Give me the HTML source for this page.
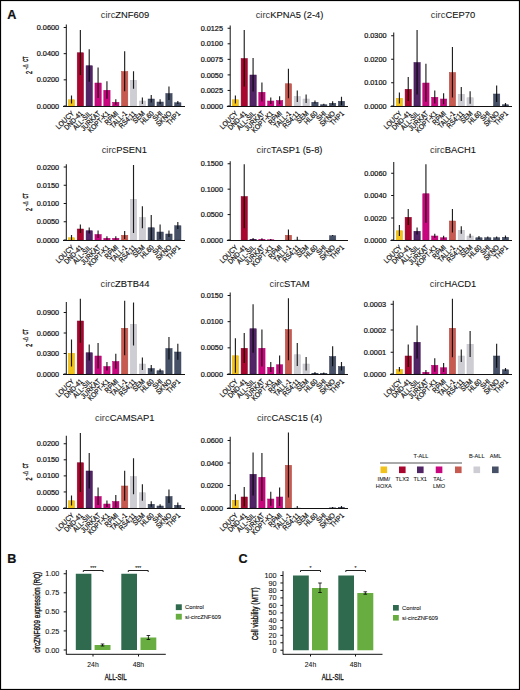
<!DOCTYPE html>
<html><head><meta charset="utf-8"><title>Figure</title>
<style>
html,body{margin:0;padding:0;background:#fff;}
body{width:520px;height:690px;overflow:hidden;}
svg{display:block;font-family:"Liberation Sans", sans-serif;}
svg text{fill:#111;stroke:#111;stroke-width:0.22px;}
.leg text{stroke-width:0.08px;}
text.ttl{stroke-width:0.1px;}
tspan.ci{stroke-width:0;fill:#3a3a3a;}
text.yl{stroke-width:0.4px;}
.leg text.bd{stroke-width:0.35px;}
.ax{stroke:#111;stroke-width:1;fill:none;}
.eb{stroke:#000;stroke-opacity:0.88;stroke-width:1.15;}
</style></head>
<body>
<svg width="520" height="690" viewBox="0 0 520 690">
<rect x="0.5" y="0.5" width="519" height="689" fill="#fff" stroke="#000" stroke-width="1.2"/>
<text x="7.2" y="19" font-size="12.6" font-weight="bold">A</text>
<rect x="68.35" y="99.75" width="6.30" height="6.25" fill="#f1c11c" stroke="#e8b000" stroke-width="0.5"/>
<text transform="translate(74.50,114.00) rotate(-45) scale(0.88,1)" text-anchor="end" font-size="7.35">LOUCY</text>
<rect x="77.21" y="52.75" width="6.30" height="53.25" fill="#a8062f" stroke="#90002a" stroke-width="0.5"/>
<text transform="translate(83.36,114.00) rotate(-45) scale(0.88,1)" text-anchor="end" font-size="7.35">DND-41</text>
<rect x="86.07" y="65.75" width="6.30" height="40.25" fill="#512465" stroke="#3d1250" stroke-width="0.5"/>
<text transform="translate(92.22,114.00) rotate(-45) scale(0.88,1)" text-anchor="end" font-size="7.35">ALL-SIL</text>
<rect x="94.93" y="83.00" width="6.30" height="23.00" fill="#c8077f" stroke="#b0006c" stroke-width="0.5"/>
<text transform="translate(101.08,114.00) rotate(-45) scale(0.88,1)" text-anchor="end" font-size="7.35">JURKAT</text>
<rect x="103.79" y="90.25" width="6.30" height="15.75" fill="#c8077f" stroke="#b0006c" stroke-width="0.5"/>
<text transform="translate(109.94,114.00) rotate(-45) scale(0.88,1)" text-anchor="end" font-size="7.35">KOPT-K1</text>
<rect x="112.65" y="102.25" width="6.30" height="3.75" fill="#c8077f" stroke="#b0006c" stroke-width="0.5"/>
<text transform="translate(118.80,114.00) rotate(-45) scale(0.88,1)" text-anchor="end" font-size="7.35">RPMI</text>
<rect x="121.51" y="71.50" width="6.30" height="34.50" fill="#c65a51" stroke="#b4463e" stroke-width="0.5"/>
<text transform="translate(127.66,114.00) rotate(-45) scale(0.88,1)" text-anchor="end" font-size="7.35">TALL-1</text>
<rect x="130.37" y="80.25" width="6.30" height="25.75" fill="#cecdd3" stroke="#c0c0c6" stroke-width="0.5"/>
<text transform="translate(136.52,114.00) rotate(-45) scale(0.88,1)" text-anchor="end" font-size="7.35">RS4;11</text>
<rect x="139.23" y="101.00" width="6.30" height="5.00" fill="#cecdd3" stroke="#c0c0c6" stroke-width="0.5"/>
<text transform="translate(145.38,114.00) rotate(-45) scale(0.88,1)" text-anchor="end" font-size="7.35">SEM</text>
<rect x="148.09" y="99.00" width="6.30" height="7.00" fill="#465067" stroke="#363e54" stroke-width="0.5"/>
<text transform="translate(154.24,114.00) rotate(-45) scale(0.88,1)" text-anchor="end" font-size="7.35">HL60</text>
<rect x="156.95" y="102.00" width="6.30" height="4.00" fill="#465067" stroke="#363e54" stroke-width="0.5"/>
<text transform="translate(163.10,114.00) rotate(-45) scale(0.88,1)" text-anchor="end" font-size="7.35">SHI</text>
<rect x="165.81" y="93.50" width="6.30" height="12.50" fill="#465067" stroke="#363e54" stroke-width="0.5"/>
<text transform="translate(171.96,114.00) rotate(-45) scale(0.88,1)" text-anchor="end" font-size="7.35">SKNO</text>
<rect x="174.67" y="102.75" width="6.30" height="3.25" fill="#465067" stroke="#363e54" stroke-width="0.5"/>
<text transform="translate(180.82,114.00) rotate(-45) scale(0.88,1)" text-anchor="end" font-size="7.35">THP1</text>
<line x1="71.50" y1="95.50" x2="71.50" y2="103.50" class="eb"/>
<line x1="80.36" y1="30.00" x2="80.36" y2="75.00" class="eb"/>
<line x1="89.22" y1="49.25" x2="89.22" y2="81.75" class="eb"/>
<line x1="98.08" y1="67.50" x2="98.08" y2="98.00" class="eb"/>
<line x1="106.94" y1="81.25" x2="106.94" y2="98.75" class="eb"/>
<line x1="115.80" y1="99.25" x2="115.80" y2="104.75" class="eb"/>
<line x1="124.66" y1="51.25" x2="124.66" y2="91.25" class="eb"/>
<line x1="133.52" y1="71.25" x2="133.52" y2="88.75" class="eb"/>
<line x1="142.38" y1="97.50" x2="142.38" y2="104.00" class="eb"/>
<line x1="151.24" y1="95.00" x2="151.24" y2="102.50" class="eb"/>
<line x1="160.10" y1="99.25" x2="160.10" y2="104.25" class="eb"/>
<line x1="168.96" y1="86.50" x2="168.96" y2="100.00" class="eb"/>
<line x1="177.82" y1="101.00" x2="177.82" y2="104.00" class="eb"/>
<line x1="66.30" y1="24.50" x2="66.30" y2="106.50" class="ax"/>
<line x1="63.00" y1="106.50" x2="185.00" y2="106.50" class="ax"/>
<line x1="63.70" y1="27.50" x2="66.30" y2="27.50" class="ax"/>
<text x="59.10" y="30.10" text-anchor="end" font-size="7.3">0.0600</text>
<line x1="63.70" y1="53.67" x2="66.30" y2="53.67" class="ax"/>
<text x="59.10" y="56.27" text-anchor="end" font-size="7.3">0.0400</text>
<line x1="63.70" y1="79.83" x2="66.30" y2="79.83" class="ax"/>
<text x="59.10" y="82.43" text-anchor="end" font-size="7.3">0.0200</text>
<line x1="63.70" y1="106.00" x2="66.30" y2="106.00" class="ax"/>
<text x="59.10" y="108.60" text-anchor="end" font-size="7.3">0.0000</text>
<text x="125.00" y="18.00" text-anchor="middle" font-size="9.4" class="ttl"><tspan class="ci">circ</tspan>ZNF609</text>
<text transform="translate(31.5,74.00) rotate(-90)" font-size="8.9" textLength="3.0" lengthAdjust="spacingAndGlyphs" class="yl">2</text>
<text transform="translate(28.1,69.60) rotate(-90)" font-size="6.3" textLength="5.5" lengthAdjust="spacingAndGlyphs">-<tspan fill="#888">Δ</tspan></text>
<text transform="translate(28.1,61.70) rotate(-90)" font-size="6.3" textLength="5.2" lengthAdjust="spacingAndGlyphs" class="yl">CT</text>
<rect x="232.25" y="99.75" width="6.30" height="6.25" fill="#f1c11c" stroke="#e8b000" stroke-width="0.5"/>
<text transform="translate(238.40,114.00) rotate(-45) scale(0.88,1)" text-anchor="end" font-size="7.35">LOUCY</text>
<rect x="241.09" y="58.50" width="6.30" height="47.50" fill="#a8062f" stroke="#90002a" stroke-width="0.5"/>
<text transform="translate(247.24,114.00) rotate(-45) scale(0.88,1)" text-anchor="end" font-size="7.35">DND-41</text>
<rect x="249.93" y="75.00" width="6.30" height="31.00" fill="#512465" stroke="#3d1250" stroke-width="0.5"/>
<text transform="translate(256.08,114.00) rotate(-45) scale(0.88,1)" text-anchor="end" font-size="7.35">ALL-SIL</text>
<rect x="258.77" y="92.25" width="6.30" height="13.75" fill="#c8077f" stroke="#b0006c" stroke-width="0.5"/>
<text transform="translate(264.92,114.00) rotate(-45) scale(0.88,1)" text-anchor="end" font-size="7.35">JURKAT</text>
<rect x="267.61" y="101.00" width="6.30" height="5.00" fill="#c8077f" stroke="#b0006c" stroke-width="0.5"/>
<text transform="translate(273.76,114.00) rotate(-45) scale(0.88,1)" text-anchor="end" font-size="7.35">KOPT-K1</text>
<rect x="276.45" y="100.50" width="6.30" height="5.50" fill="#c8077f" stroke="#b0006c" stroke-width="0.5"/>
<text transform="translate(282.60,114.00) rotate(-45) scale(0.88,1)" text-anchor="end" font-size="7.35">RPMI</text>
<rect x="285.29" y="83.75" width="6.30" height="22.25" fill="#c65a51" stroke="#b4463e" stroke-width="0.5"/>
<text transform="translate(291.44,114.00) rotate(-45) scale(0.88,1)" text-anchor="end" font-size="7.35">TALL-1</text>
<rect x="294.13" y="96.50" width="6.30" height="9.50" fill="#cecdd3" stroke="#c0c0c6" stroke-width="0.5"/>
<text transform="translate(300.28,114.00) rotate(-45) scale(0.88,1)" text-anchor="end" font-size="7.35">RS4;11</text>
<rect x="302.97" y="99.00" width="6.30" height="7.00" fill="#cecdd3" stroke="#c0c0c6" stroke-width="0.5"/>
<text transform="translate(309.12,114.00) rotate(-45) scale(0.88,1)" text-anchor="end" font-size="7.35">SEM</text>
<rect x="311.81" y="102.25" width="6.30" height="3.75" fill="#465067" stroke="#363e54" stroke-width="0.5"/>
<text transform="translate(317.96,114.00) rotate(-45) scale(0.88,1)" text-anchor="end" font-size="7.35">HL60</text>
<rect x="320.65" y="104.75" width="6.30" height="1.25" fill="#465067" stroke="#363e54" stroke-width="0.5"/>
<text transform="translate(326.80,114.00) rotate(-45) scale(0.88,1)" text-anchor="end" font-size="7.35">SHI</text>
<rect x="329.49" y="103.25" width="6.30" height="2.75" fill="#465067" stroke="#363e54" stroke-width="0.5"/>
<text transform="translate(335.64,114.00) rotate(-45) scale(0.88,1)" text-anchor="end" font-size="7.35">SKNO</text>
<rect x="338.33" y="101.25" width="6.30" height="4.75" fill="#465067" stroke="#363e54" stroke-width="0.5"/>
<text transform="translate(344.48,114.00) rotate(-45) scale(0.88,1)" text-anchor="end" font-size="7.35">THP1</text>
<line x1="235.40" y1="95.50" x2="235.40" y2="103.50" class="eb"/>
<line x1="244.24" y1="30.00" x2="244.24" y2="86.50" class="eb"/>
<line x1="253.08" y1="58.00" x2="253.08" y2="91.50" class="eb"/>
<line x1="261.92" y1="82.50" x2="261.92" y2="101.50" class="eb"/>
<line x1="270.76" y1="97.50" x2="270.76" y2="104.00" class="eb"/>
<line x1="279.60" y1="96.25" x2="279.60" y2="104.25" class="eb"/>
<line x1="288.44" y1="68.75" x2="288.44" y2="98.25" class="eb"/>
<line x1="297.28" y1="90.50" x2="297.28" y2="102.00" class="eb"/>
<line x1="306.12" y1="94.50" x2="306.12" y2="103.00" class="eb"/>
<line x1="314.96" y1="100.50" x2="314.96" y2="103.50" class="eb"/>
<line x1="323.80" y1="103.75" x2="323.80" y2="105.25" class="eb"/>
<line x1="332.64" y1="101.25" x2="332.64" y2="104.75" class="eb"/>
<line x1="341.48" y1="96.75" x2="341.48" y2="105.25" class="eb"/>
<line x1="230.20" y1="25.50" x2="230.20" y2="106.50" class="ax"/>
<line x1="226.90" y1="106.50" x2="348.00" y2="106.50" class="ax"/>
<line x1="227.60" y1="28.25" x2="230.20" y2="28.25" class="ax"/>
<text x="223.00" y="30.85" text-anchor="end" font-size="7.3">0.0125</text>
<line x1="227.60" y1="43.80" x2="230.20" y2="43.80" class="ax"/>
<text x="223.00" y="46.40" text-anchor="end" font-size="7.3">0.0100</text>
<line x1="227.60" y1="59.35" x2="230.20" y2="59.35" class="ax"/>
<text x="223.00" y="61.95" text-anchor="end" font-size="7.3">0.0075</text>
<line x1="227.60" y1="74.90" x2="230.20" y2="74.90" class="ax"/>
<text x="223.00" y="77.50" text-anchor="end" font-size="7.3">0.0050</text>
<line x1="227.60" y1="90.45" x2="230.20" y2="90.45" class="ax"/>
<text x="223.00" y="93.05" text-anchor="end" font-size="7.3">0.0025</text>
<line x1="227.60" y1="106.00" x2="230.20" y2="106.00" class="ax"/>
<text x="223.00" y="108.60" text-anchor="end" font-size="7.3">0.0000</text>
<text x="289.50" y="18.00" text-anchor="middle" font-size="9.4" class="ttl"><tspan class="ci">circ</tspan>KPNA5 (2-4)</text>
<rect x="396.25" y="98.25" width="6.30" height="7.75" fill="#f1c11c" stroke="#e8b000" stroke-width="0.5"/>
<text transform="translate(402.40,114.00) rotate(-45) scale(0.88,1)" text-anchor="end" font-size="7.35">LOUCY</text>
<rect x="405.09" y="89.25" width="6.30" height="16.75" fill="#a8062f" stroke="#90002a" stroke-width="0.5"/>
<text transform="translate(411.24,114.00) rotate(-45) scale(0.88,1)" text-anchor="end" font-size="7.35">DND-41</text>
<rect x="413.93" y="62.50" width="6.30" height="43.50" fill="#512465" stroke="#3d1250" stroke-width="0.5"/>
<text transform="translate(420.08,114.00) rotate(-45) scale(0.88,1)" text-anchor="end" font-size="7.35">ALL-SIL</text>
<rect x="422.77" y="83.00" width="6.30" height="23.00" fill="#c8077f" stroke="#b0006c" stroke-width="0.5"/>
<text transform="translate(428.92,114.00) rotate(-45) scale(0.88,1)" text-anchor="end" font-size="7.35">JURKAT</text>
<rect x="431.61" y="97.25" width="6.30" height="8.75" fill="#c8077f" stroke="#b0006c" stroke-width="0.5"/>
<text transform="translate(437.76,114.00) rotate(-45) scale(0.88,1)" text-anchor="end" font-size="7.35">KOPT-K1</text>
<rect x="440.45" y="99.00" width="6.30" height="7.00" fill="#c8077f" stroke="#b0006c" stroke-width="0.5"/>
<text transform="translate(446.60,114.00) rotate(-45) scale(0.88,1)" text-anchor="end" font-size="7.35">RPMI</text>
<rect x="449.29" y="72.50" width="6.30" height="33.50" fill="#c65a51" stroke="#b4463e" stroke-width="0.5"/>
<text transform="translate(455.44,114.00) rotate(-45) scale(0.88,1)" text-anchor="end" font-size="7.35">TALL-1</text>
<rect x="458.13" y="94.25" width="6.30" height="11.75" fill="#cecdd3" stroke="#c0c0c6" stroke-width="0.5"/>
<text transform="translate(464.28,114.00) rotate(-45) scale(0.88,1)" text-anchor="end" font-size="7.35">RS4;11</text>
<rect x="466.97" y="97.75" width="6.30" height="8.25" fill="#cecdd3" stroke="#c0c0c6" stroke-width="0.5"/>
<text transform="translate(473.12,114.00) rotate(-45) scale(0.88,1)" text-anchor="end" font-size="7.35">SEM</text>
<text transform="translate(481.96,114.00) rotate(-45) scale(0.88,1)" text-anchor="end" font-size="7.35">HL60</text>
<text transform="translate(490.80,114.00) rotate(-45) scale(0.88,1)" text-anchor="end" font-size="7.35">SHI</text>
<rect x="493.49" y="94.00" width="6.30" height="12.00" fill="#465067" stroke="#363e54" stroke-width="0.5"/>
<text transform="translate(499.64,114.00) rotate(-45) scale(0.88,1)" text-anchor="end" font-size="7.35">SKNO</text>
<rect x="502.33" y="104.75" width="6.30" height="1.25" fill="#465067" stroke="#363e54" stroke-width="0.5"/>
<text transform="translate(508.48,114.00) rotate(-45) scale(0.88,1)" text-anchor="end" font-size="7.35">THP1</text>
<line x1="399.40" y1="92.50" x2="399.40" y2="103.50" class="eb"/>
<line x1="408.24" y1="77.00" x2="408.24" y2="101.00" class="eb"/>
<line x1="417.08" y1="30.00" x2="417.08" y2="94.50" class="eb"/>
<line x1="425.92" y1="63.75" x2="425.92" y2="101.75" class="eb"/>
<line x1="434.76" y1="90.50" x2="434.76" y2="103.50" class="eb"/>
<line x1="443.60" y1="93.25" x2="443.60" y2="104.25" class="eb"/>
<line x1="452.44" y1="47.00" x2="452.44" y2="97.50" class="eb"/>
<line x1="461.28" y1="87.00" x2="461.28" y2="101.00" class="eb"/>
<line x1="470.12" y1="91.25" x2="470.12" y2="103.75" class="eb"/>
<line x1="496.64" y1="85.50" x2="496.64" y2="102.00" class="eb"/>
<line x1="505.48" y1="103.00" x2="505.48" y2="106.00" class="eb"/>
<line x1="393.75" y1="32.50" x2="393.75" y2="106.50" class="ax"/>
<line x1="390.45" y1="106.50" x2="512.00" y2="106.50" class="ax"/>
<line x1="391.15" y1="35.75" x2="393.75" y2="35.75" class="ax"/>
<text x="386.55" y="38.35" text-anchor="end" font-size="7.3">0.0300</text>
<line x1="391.15" y1="59.25" x2="393.75" y2="59.25" class="ax"/>
<text x="386.55" y="61.85" text-anchor="end" font-size="7.3">0.0200</text>
<line x1="391.15" y1="82.75" x2="393.75" y2="82.75" class="ax"/>
<text x="386.55" y="85.35" text-anchor="end" font-size="7.3">0.0100</text>
<line x1="391.15" y1="106.00" x2="393.75" y2="106.00" class="ax"/>
<text x="386.55" y="108.60" text-anchor="end" font-size="7.3">0.0000</text>
<text x="453.00" y="18.00" text-anchor="middle" font-size="9.4" class="ttl"><tspan class="ci">circ</tspan>CEP70</text>
<rect x="68.35" y="237.75" width="6.30" height="2.25" fill="#f1c11c" stroke="#e8b000" stroke-width="0.5"/>
<text transform="translate(74.50,248.00) rotate(-45) scale(0.88,1)" text-anchor="end" font-size="7.35">LOUCY</text>
<rect x="77.21" y="229.00" width="6.30" height="11.00" fill="#a8062f" stroke="#90002a" stroke-width="0.5"/>
<text transform="translate(83.36,248.00) rotate(-45) scale(0.88,1)" text-anchor="end" font-size="7.35">DND-41</text>
<rect x="86.07" y="230.75" width="6.30" height="9.25" fill="#512465" stroke="#3d1250" stroke-width="0.5"/>
<text transform="translate(92.22,248.00) rotate(-45) scale(0.88,1)" text-anchor="end" font-size="7.35">ALL-SIL</text>
<rect x="94.93" y="234.50" width="6.30" height="5.50" fill="#c8077f" stroke="#b0006c" stroke-width="0.5"/>
<text transform="translate(101.08,248.00) rotate(-45) scale(0.88,1)" text-anchor="end" font-size="7.35">JURKAT</text>
<rect x="103.79" y="238.25" width="6.30" height="1.75" fill="#c8077f" stroke="#b0006c" stroke-width="0.5"/>
<text transform="translate(109.94,248.00) rotate(-45) scale(0.88,1)" text-anchor="end" font-size="7.35">KOPT-K1</text>
<rect x="112.65" y="238.25" width="6.30" height="1.75" fill="#c8077f" stroke="#b0006c" stroke-width="0.5"/>
<text transform="translate(118.80,248.00) rotate(-45) scale(0.88,1)" text-anchor="end" font-size="7.35">RPMI</text>
<rect x="121.51" y="235.25" width="6.30" height="4.75" fill="#c65a51" stroke="#b4463e" stroke-width="0.5"/>
<text transform="translate(127.66,248.00) rotate(-45) scale(0.88,1)" text-anchor="end" font-size="7.35">TALL-1</text>
<rect x="130.37" y="199.25" width="6.30" height="40.75" fill="#cecdd3" stroke="#c0c0c6" stroke-width="0.5"/>
<text transform="translate(136.52,248.00) rotate(-45) scale(0.88,1)" text-anchor="end" font-size="7.35">RS4;11</text>
<rect x="139.23" y="217.50" width="6.30" height="22.50" fill="#cecdd3" stroke="#c0c0c6" stroke-width="0.5"/>
<text transform="translate(145.38,248.00) rotate(-45) scale(0.88,1)" text-anchor="end" font-size="7.35">SEM</text>
<rect x="148.09" y="227.75" width="6.30" height="12.25" fill="#465067" stroke="#363e54" stroke-width="0.5"/>
<text transform="translate(154.24,248.00) rotate(-45) scale(0.88,1)" text-anchor="end" font-size="7.35">HL60</text>
<rect x="156.95" y="232.00" width="6.30" height="8.00" fill="#465067" stroke="#363e54" stroke-width="0.5"/>
<text transform="translate(163.10,248.00) rotate(-45) scale(0.88,1)" text-anchor="end" font-size="7.35">SHI</text>
<rect x="165.81" y="234.00" width="6.30" height="6.00" fill="#465067" stroke="#363e54" stroke-width="0.5"/>
<text transform="translate(171.96,248.00) rotate(-45) scale(0.88,1)" text-anchor="end" font-size="7.35">SKNO</text>
<rect x="174.67" y="225.75" width="6.30" height="14.25" fill="#465067" stroke="#363e54" stroke-width="0.5"/>
<text transform="translate(180.82,248.00) rotate(-45) scale(0.88,1)" text-anchor="end" font-size="7.35">THP1</text>
<line x1="71.50" y1="235.00" x2="71.50" y2="240.00" class="eb"/>
<line x1="80.36" y1="224.50" x2="80.36" y2="233.00" class="eb"/>
<line x1="89.22" y1="227.50" x2="89.22" y2="233.50" class="eb"/>
<line x1="98.08" y1="230.50" x2="98.08" y2="238.00" class="eb"/>
<line x1="106.94" y1="236.25" x2="106.94" y2="239.75" class="eb"/>
<line x1="115.80" y1="236.25" x2="115.80" y2="239.75" class="eb"/>
<line x1="124.66" y1="231.00" x2="124.66" y2="239.00" class="eb"/>
<line x1="133.52" y1="165.00" x2="133.52" y2="233.00" class="eb"/>
<line x1="142.38" y1="206.25" x2="142.38" y2="228.25" class="eb"/>
<line x1="151.24" y1="215.00" x2="151.24" y2="240.00" class="eb"/>
<line x1="160.10" y1="224.50" x2="160.10" y2="239.00" class="eb"/>
<line x1="168.96" y1="230.50" x2="168.96" y2="237.00" class="eb"/>
<line x1="177.82" y1="222.00" x2="177.82" y2="229.00" class="eb"/>
<line x1="66.30" y1="164.25" x2="66.30" y2="240.50" class="ax"/>
<line x1="63.00" y1="240.50" x2="185.00" y2="240.50" class="ax"/>
<line x1="63.70" y1="167.00" x2="66.30" y2="167.00" class="ax"/>
<text x="59.10" y="169.60" text-anchor="end" font-size="7.3">0.0200</text>
<line x1="63.70" y1="185.25" x2="66.30" y2="185.25" class="ax"/>
<text x="59.10" y="187.85" text-anchor="end" font-size="7.3">0.0150</text>
<line x1="63.70" y1="203.50" x2="66.30" y2="203.50" class="ax"/>
<text x="59.10" y="206.10" text-anchor="end" font-size="7.3">0.0100</text>
<line x1="63.70" y1="221.75" x2="66.30" y2="221.75" class="ax"/>
<text x="59.10" y="224.35" text-anchor="end" font-size="7.3">0.0050</text>
<line x1="63.70" y1="240.00" x2="66.30" y2="240.00" class="ax"/>
<text x="59.10" y="242.60" text-anchor="end" font-size="7.3">0.0000</text>
<text x="124.30" y="153.00" text-anchor="middle" font-size="9.4" class="ttl"><tspan class="ci">circ</tspan>PSEN1</text>
<text transform="translate(31.5,210.88) rotate(-90)" font-size="8.9" textLength="3.0" lengthAdjust="spacingAndGlyphs" class="yl">2</text>
<text transform="translate(28.1,206.47) rotate(-90)" font-size="6.3" textLength="5.5" lengthAdjust="spacingAndGlyphs">-<tspan fill="#888">Δ</tspan></text>
<text transform="translate(28.1,198.57) rotate(-90)" font-size="6.3" textLength="5.2" lengthAdjust="spacingAndGlyphs" class="yl">CT</text>
<text transform="translate(238.40,248.00) rotate(-45) scale(0.88,1)" text-anchor="end" font-size="7.35">LOUCY</text>
<rect x="241.09" y="196.50" width="6.30" height="43.50" fill="#a8062f" stroke="#90002a" stroke-width="0.5"/>
<text transform="translate(247.24,248.00) rotate(-45) scale(0.88,1)" text-anchor="end" font-size="7.35">DND-41</text>
<rect x="249.93" y="239.25" width="6.30" height="0.75" fill="#512465" stroke="#3d1250" stroke-width="0.5"/>
<text transform="translate(256.08,248.00) rotate(-45) scale(0.88,1)" text-anchor="end" font-size="7.35">ALL-SIL</text>
<rect x="258.77" y="239.55" width="6.30" height="0.45" fill="#c8077f" stroke="#b0006c" stroke-width="0.5"/>
<text transform="translate(264.92,248.00) rotate(-45) scale(0.88,1)" text-anchor="end" font-size="7.35">JURKAT</text>
<rect x="267.61" y="239.75" width="6.30" height="0.25" fill="#c8077f" stroke="#b0006c" stroke-width="0.5"/>
<text transform="translate(273.76,248.00) rotate(-45) scale(0.88,1)" text-anchor="end" font-size="7.35">KOPT-K1</text>
<text transform="translate(282.60,248.00) rotate(-45) scale(0.88,1)" text-anchor="end" font-size="7.35">RPMI</text>
<rect x="285.29" y="235.25" width="6.30" height="4.75" fill="#c65a51" stroke="#b4463e" stroke-width="0.5"/>
<text transform="translate(291.44,248.00) rotate(-45) scale(0.88,1)" text-anchor="end" font-size="7.35">TALL-1</text>
<rect x="294.13" y="239.75" width="6.30" height="0.25" fill="#cecdd3" stroke="#c0c0c6" stroke-width="0.5"/>
<text transform="translate(300.28,248.00) rotate(-45) scale(0.88,1)" text-anchor="end" font-size="7.35">RS4;11</text>
<text transform="translate(309.12,248.00) rotate(-45) scale(0.88,1)" text-anchor="end" font-size="7.35">SEM</text>
<text transform="translate(317.96,248.00) rotate(-45) scale(0.88,1)" text-anchor="end" font-size="7.35">HL60</text>
<text transform="translate(326.80,248.00) rotate(-45) scale(0.88,1)" text-anchor="end" font-size="7.35">SHI</text>
<rect x="329.49" y="235.75" width="6.30" height="4.25" fill="#465067" stroke="#363e54" stroke-width="0.5"/>
<text transform="translate(335.64,248.00) rotate(-45) scale(0.88,1)" text-anchor="end" font-size="7.35">SKNO</text>
<text transform="translate(344.48,248.00) rotate(-45) scale(0.88,1)" text-anchor="end" font-size="7.35">THP1</text>
<line x1="244.24" y1="164.25" x2="244.24" y2="228.25" class="eb"/>
<line x1="253.08" y1="238.00" x2="253.08" y2="240.00" class="eb"/>
<line x1="261.92" y1="238.30" x2="261.92" y2="240.00" class="eb"/>
<line x1="270.76" y1="239.00" x2="270.76" y2="240.00" class="eb"/>
<line x1="288.44" y1="229.50" x2="288.44" y2="240.00" class="eb"/>
<line x1="297.28" y1="236.75" x2="297.28" y2="240.00" class="eb"/>
<line x1="332.64" y1="235.00" x2="332.64" y2="236.00" class="eb"/>
<line x1="230.20" y1="161.25" x2="230.20" y2="240.50" class="ax"/>
<line x1="226.90" y1="240.50" x2="348.00" y2="240.50" class="ax"/>
<line x1="227.60" y1="163.75" x2="230.20" y2="163.75" class="ax"/>
<text x="223.00" y="166.35" text-anchor="end" font-size="7.3">0.1500</text>
<line x1="227.60" y1="189.17" x2="230.20" y2="189.17" class="ax"/>
<text x="223.00" y="191.77" text-anchor="end" font-size="7.3">0.1000</text>
<line x1="227.60" y1="214.58" x2="230.20" y2="214.58" class="ax"/>
<text x="223.00" y="217.18" text-anchor="end" font-size="7.3">0.0500</text>
<line x1="227.60" y1="240.00" x2="230.20" y2="240.00" class="ax"/>
<text x="223.00" y="242.60" text-anchor="end" font-size="7.3">0.0000</text>
<text x="289.50" y="153.00" text-anchor="middle" font-size="9.4" class="ttl"><tspan class="ci">circ</tspan>TASP1 (5-8)</text>
<rect x="396.25" y="230.75" width="6.30" height="9.25" fill="#f1c11c" stroke="#e8b000" stroke-width="0.5"/>
<text transform="translate(402.40,248.00) rotate(-45) scale(0.88,1)" text-anchor="end" font-size="7.35">LOUCY</text>
<rect x="405.09" y="217.25" width="6.30" height="22.75" fill="#a8062f" stroke="#90002a" stroke-width="0.5"/>
<text transform="translate(411.24,248.00) rotate(-45) scale(0.88,1)" text-anchor="end" font-size="7.35">DND-41</text>
<rect x="413.93" y="231.25" width="6.30" height="8.75" fill="#512465" stroke="#3d1250" stroke-width="0.5"/>
<text transform="translate(420.08,248.00) rotate(-45) scale(0.88,1)" text-anchor="end" font-size="7.35">ALL-SIL</text>
<rect x="422.77" y="193.75" width="6.30" height="46.25" fill="#c8077f" stroke="#b0006c" stroke-width="0.5"/>
<text transform="translate(428.92,248.00) rotate(-45) scale(0.88,1)" text-anchor="end" font-size="7.35">JURKAT</text>
<rect x="431.61" y="236.00" width="6.30" height="4.00" fill="#c8077f" stroke="#b0006c" stroke-width="0.5"/>
<text transform="translate(437.76,248.00) rotate(-45) scale(0.88,1)" text-anchor="end" font-size="7.35">KOPT-K1</text>
<rect x="440.45" y="237.75" width="6.30" height="2.25" fill="#c8077f" stroke="#b0006c" stroke-width="0.5"/>
<text transform="translate(446.60,248.00) rotate(-45) scale(0.88,1)" text-anchor="end" font-size="7.35">RPMI</text>
<rect x="449.29" y="221.00" width="6.30" height="19.00" fill="#c65a51" stroke="#b4463e" stroke-width="0.5"/>
<text transform="translate(455.44,248.00) rotate(-45) scale(0.88,1)" text-anchor="end" font-size="7.35">TALL-1</text>
<rect x="458.13" y="230.25" width="6.30" height="9.75" fill="#cecdd3" stroke="#c0c0c6" stroke-width="0.5"/>
<text transform="translate(464.28,248.00) rotate(-45) scale(0.88,1)" text-anchor="end" font-size="7.35">RS4;11</text>
<rect x="466.97" y="236.00" width="6.30" height="4.00" fill="#cecdd3" stroke="#c0c0c6" stroke-width="0.5"/>
<text transform="translate(473.12,248.00) rotate(-45) scale(0.88,1)" text-anchor="end" font-size="7.35">SEM</text>
<rect x="475.81" y="237.75" width="6.30" height="2.25" fill="#465067" stroke="#363e54" stroke-width="0.5"/>
<text transform="translate(481.96,248.00) rotate(-45) scale(0.88,1)" text-anchor="end" font-size="7.35">HL60</text>
<rect x="484.65" y="237.75" width="6.30" height="2.25" fill="#465067" stroke="#363e54" stroke-width="0.5"/>
<text transform="translate(490.80,248.00) rotate(-45) scale(0.88,1)" text-anchor="end" font-size="7.35">SHI</text>
<rect x="493.49" y="237.75" width="6.30" height="2.25" fill="#465067" stroke="#363e54" stroke-width="0.5"/>
<text transform="translate(499.64,248.00) rotate(-45) scale(0.88,1)" text-anchor="end" font-size="7.35">SKNO</text>
<rect x="502.33" y="237.25" width="6.30" height="2.75" fill="#465067" stroke="#363e54" stroke-width="0.5"/>
<text transform="translate(508.48,248.00) rotate(-45) scale(0.88,1)" text-anchor="end" font-size="7.35">THP1</text>
<line x1="399.40" y1="225.00" x2="399.40" y2="236.00" class="eb"/>
<line x1="408.24" y1="209.00" x2="408.24" y2="225.00" class="eb"/>
<line x1="417.08" y1="227.50" x2="417.08" y2="234.50" class="eb"/>
<line x1="425.92" y1="164.25" x2="425.92" y2="222.75" class="eb"/>
<line x1="434.76" y1="233.75" x2="434.76" y2="237.75" class="eb"/>
<line x1="443.60" y1="235.75" x2="443.60" y2="239.25" class="eb"/>
<line x1="452.44" y1="209.00" x2="452.44" y2="232.50" class="eb"/>
<line x1="461.28" y1="226.25" x2="461.28" y2="233.75" class="eb"/>
<line x1="470.12" y1="233.75" x2="470.12" y2="237.75" class="eb"/>
<line x1="478.96" y1="236.00" x2="478.96" y2="239.00" class="eb"/>
<line x1="487.80" y1="236.50" x2="487.80" y2="238.50" class="eb"/>
<line x1="496.64" y1="236.50" x2="496.64" y2="238.50" class="eb"/>
<line x1="505.48" y1="235.50" x2="505.48" y2="238.50" class="eb"/>
<line x1="393.75" y1="162.00" x2="393.75" y2="240.50" class="ax"/>
<line x1="390.45" y1="240.50" x2="512.00" y2="240.50" class="ax"/>
<line x1="391.15" y1="173.25" x2="393.75" y2="173.25" class="ax"/>
<text x="386.55" y="175.85" text-anchor="end" font-size="7.3">0.0060</text>
<line x1="391.15" y1="195.50" x2="393.75" y2="195.50" class="ax"/>
<text x="386.55" y="198.10" text-anchor="end" font-size="7.3">0.0040</text>
<line x1="391.15" y1="218.00" x2="393.75" y2="218.00" class="ax"/>
<text x="386.55" y="220.60" text-anchor="end" font-size="7.3">0.0020</text>
<line x1="391.15" y1="240.00" x2="393.75" y2="240.00" class="ax"/>
<text x="386.55" y="242.60" text-anchor="end" font-size="7.3">0.0000</text>
<text x="453.00" y="153.00" text-anchor="middle" font-size="9.4" class="ttl"><tspan class="ci">circ</tspan>BACH1</text>
<rect x="68.35" y="353.25" width="6.30" height="20.75" fill="#f1c11c" stroke="#e8b000" stroke-width="0.5"/>
<text transform="translate(74.50,382.00) rotate(-45) scale(0.88,1)" text-anchor="end" font-size="7.35">LOUCY</text>
<rect x="77.21" y="321.00" width="6.30" height="53.00" fill="#a8062f" stroke="#90002a" stroke-width="0.5"/>
<text transform="translate(83.36,382.00) rotate(-45) scale(0.88,1)" text-anchor="end" font-size="7.35">DND-41</text>
<rect x="86.07" y="352.75" width="6.30" height="21.25" fill="#512465" stroke="#3d1250" stroke-width="0.5"/>
<text transform="translate(92.22,382.00) rotate(-45) scale(0.88,1)" text-anchor="end" font-size="7.35">ALL-SIL</text>
<rect x="94.93" y="356.00" width="6.30" height="18.00" fill="#c8077f" stroke="#b0006c" stroke-width="0.5"/>
<text transform="translate(101.08,382.00) rotate(-45) scale(0.88,1)" text-anchor="end" font-size="7.35">JURKAT</text>
<rect x="103.79" y="366.50" width="6.30" height="7.50" fill="#c8077f" stroke="#b0006c" stroke-width="0.5"/>
<text transform="translate(109.94,382.00) rotate(-45) scale(0.88,1)" text-anchor="end" font-size="7.35">KOPT-K1</text>
<rect x="112.65" y="361.50" width="6.30" height="12.50" fill="#c8077f" stroke="#b0006c" stroke-width="0.5"/>
<text transform="translate(118.80,382.00) rotate(-45) scale(0.88,1)" text-anchor="end" font-size="7.35">RPMI</text>
<rect x="121.51" y="328.25" width="6.30" height="45.75" fill="#c65a51" stroke="#b4463e" stroke-width="0.5"/>
<text transform="translate(127.66,382.00) rotate(-45) scale(0.88,1)" text-anchor="end" font-size="7.35">TALL-1</text>
<rect x="130.37" y="324.25" width="6.30" height="49.75" fill="#cecdd3" stroke="#c0c0c6" stroke-width="0.5"/>
<text transform="translate(136.52,382.00) rotate(-45) scale(0.88,1)" text-anchor="end" font-size="7.35">RS4;11</text>
<rect x="139.23" y="364.00" width="6.30" height="10.00" fill="#cecdd3" stroke="#c0c0c6" stroke-width="0.5"/>
<text transform="translate(145.38,382.00) rotate(-45) scale(0.88,1)" text-anchor="end" font-size="7.35">SEM</text>
<rect x="148.09" y="368.50" width="6.30" height="5.50" fill="#465067" stroke="#363e54" stroke-width="0.5"/>
<text transform="translate(154.24,382.00) rotate(-45) scale(0.88,1)" text-anchor="end" font-size="7.35">HL60</text>
<rect x="156.95" y="370.75" width="6.30" height="3.25" fill="#465067" stroke="#363e54" stroke-width="0.5"/>
<text transform="translate(163.10,382.00) rotate(-45) scale(0.88,1)" text-anchor="end" font-size="7.35">SHI</text>
<rect x="165.81" y="348.50" width="6.30" height="25.50" fill="#465067" stroke="#363e54" stroke-width="0.5"/>
<text transform="translate(171.96,382.00) rotate(-45) scale(0.88,1)" text-anchor="end" font-size="7.35">SKNO</text>
<rect x="174.67" y="352.00" width="6.30" height="22.00" fill="#465067" stroke="#363e54" stroke-width="0.5"/>
<text transform="translate(180.82,382.00) rotate(-45) scale(0.88,1)" text-anchor="end" font-size="7.35">THP1</text>
<line x1="71.50" y1="339.50" x2="71.50" y2="366.50" class="eb"/>
<line x1="80.36" y1="298.75" x2="80.36" y2="342.75" class="eb"/>
<line x1="89.22" y1="344.50" x2="89.22" y2="360.50" class="eb"/>
<line x1="98.08" y1="343.00" x2="98.08" y2="368.50" class="eb"/>
<line x1="106.94" y1="362.00" x2="106.94" y2="370.50" class="eb"/>
<line x1="115.80" y1="353.75" x2="115.80" y2="368.75" class="eb"/>
<line x1="124.66" y1="300.75" x2="124.66" y2="355.25" class="eb"/>
<line x1="133.52" y1="302.50" x2="133.52" y2="345.50" class="eb"/>
<line x1="142.38" y1="357.50" x2="142.38" y2="370.00" class="eb"/>
<line x1="151.24" y1="365.00" x2="151.24" y2="371.50" class="eb"/>
<line x1="160.10" y1="368.75" x2="160.10" y2="372.25" class="eb"/>
<line x1="168.96" y1="337.00" x2="168.96" y2="359.50" class="eb"/>
<line x1="177.82" y1="343.75" x2="177.82" y2="359.75" class="eb"/>
<line x1="66.30" y1="302.00" x2="66.30" y2="374.50" class="ax"/>
<line x1="63.00" y1="374.50" x2="185.00" y2="374.50" class="ax"/>
<line x1="63.70" y1="312.50" x2="66.30" y2="312.50" class="ax"/>
<text x="59.10" y="315.10" text-anchor="end" font-size="7.3">0.0900</text>
<line x1="63.70" y1="333.00" x2="66.30" y2="333.00" class="ax"/>
<text x="59.10" y="335.60" text-anchor="end" font-size="7.3">0.0600</text>
<line x1="63.70" y1="353.50" x2="66.30" y2="353.50" class="ax"/>
<text x="59.10" y="356.10" text-anchor="end" font-size="7.3">0.0300</text>
<line x1="63.70" y1="374.00" x2="66.30" y2="374.00" class="ax"/>
<text x="59.10" y="376.60" text-anchor="end" font-size="7.3">0.0000</text>
<text x="125.00" y="287.00" text-anchor="middle" font-size="9.4" class="ttl"><tspan class="ci">circ</tspan>ZBTB44</text>
<text transform="translate(31.5,346.75) rotate(-90)" font-size="8.9" textLength="3.0" lengthAdjust="spacingAndGlyphs" class="yl">2</text>
<text transform="translate(28.1,342.35) rotate(-90)" font-size="6.3" textLength="5.5" lengthAdjust="spacingAndGlyphs">-<tspan fill="#888">Δ</tspan></text>
<text transform="translate(28.1,334.45) rotate(-90)" font-size="6.3" textLength="5.2" lengthAdjust="spacingAndGlyphs" class="yl">CT</text>
<rect x="232.25" y="355.75" width="6.30" height="18.25" fill="#f1c11c" stroke="#e8b000" stroke-width="0.5"/>
<text transform="translate(238.40,382.00) rotate(-45) scale(0.88,1)" text-anchor="end" font-size="7.35">LOUCY</text>
<rect x="241.09" y="348.25" width="6.30" height="25.75" fill="#a8062f" stroke="#90002a" stroke-width="0.5"/>
<text transform="translate(247.24,382.00) rotate(-45) scale(0.88,1)" text-anchor="end" font-size="7.35">DND-41</text>
<rect x="249.93" y="328.75" width="6.30" height="45.25" fill="#512465" stroke="#3d1250" stroke-width="0.5"/>
<text transform="translate(256.08,382.00) rotate(-45) scale(0.88,1)" text-anchor="end" font-size="7.35">ALL-SIL</text>
<rect x="258.77" y="348.25" width="6.30" height="25.75" fill="#c8077f" stroke="#b0006c" stroke-width="0.5"/>
<text transform="translate(264.92,382.00) rotate(-45) scale(0.88,1)" text-anchor="end" font-size="7.35">JURKAT</text>
<rect x="267.61" y="367.25" width="6.30" height="6.75" fill="#c8077f" stroke="#b0006c" stroke-width="0.5"/>
<text transform="translate(273.76,382.00) rotate(-45) scale(0.88,1)" text-anchor="end" font-size="7.35">KOPT-K1</text>
<rect x="276.45" y="364.75" width="6.30" height="9.25" fill="#c8077f" stroke="#b0006c" stroke-width="0.5"/>
<text transform="translate(282.60,382.00) rotate(-45) scale(0.88,1)" text-anchor="end" font-size="7.35">RPMI</text>
<rect x="285.29" y="329.50" width="6.30" height="44.50" fill="#c65a51" stroke="#b4463e" stroke-width="0.5"/>
<text transform="translate(291.44,382.00) rotate(-45) scale(0.88,1)" text-anchor="end" font-size="7.35">TALL-1</text>
<rect x="294.13" y="354.75" width="6.30" height="19.25" fill="#cecdd3" stroke="#c0c0c6" stroke-width="0.5"/>
<text transform="translate(300.28,382.00) rotate(-45) scale(0.88,1)" text-anchor="end" font-size="7.35">RS4;11</text>
<rect x="302.97" y="364.00" width="6.30" height="10.00" fill="#cecdd3" stroke="#c0c0c6" stroke-width="0.5"/>
<text transform="translate(309.12,382.00) rotate(-45) scale(0.88,1)" text-anchor="end" font-size="7.35">SEM</text>
<rect x="311.81" y="373.25" width="6.30" height="0.75" fill="#465067" stroke="#363e54" stroke-width="0.5"/>
<text transform="translate(317.96,382.00) rotate(-45) scale(0.88,1)" text-anchor="end" font-size="7.35">HL60</text>
<rect x="320.65" y="373.55" width="6.30" height="0.45" fill="#465067" stroke="#363e54" stroke-width="0.5"/>
<text transform="translate(326.80,382.00) rotate(-45) scale(0.88,1)" text-anchor="end" font-size="7.35">SHI</text>
<rect x="329.49" y="356.50" width="6.30" height="17.50" fill="#465067" stroke="#363e54" stroke-width="0.5"/>
<text transform="translate(335.64,382.00) rotate(-45) scale(0.88,1)" text-anchor="end" font-size="7.35">SKNO</text>
<rect x="338.33" y="366.50" width="6.30" height="7.50" fill="#465067" stroke="#363e54" stroke-width="0.5"/>
<text transform="translate(344.48,382.00) rotate(-45) scale(0.88,1)" text-anchor="end" font-size="7.35">THP1</text>
<line x1="235.40" y1="338.25" x2="235.40" y2="372.75" class="eb"/>
<line x1="244.24" y1="333.00" x2="244.24" y2="363.00" class="eb"/>
<line x1="253.08" y1="304.25" x2="253.08" y2="352.75" class="eb"/>
<line x1="261.92" y1="329.50" x2="261.92" y2="366.50" class="eb"/>
<line x1="270.76" y1="362.00" x2="270.76" y2="372.00" class="eb"/>
<line x1="279.60" y1="355.50" x2="279.60" y2="373.50" class="eb"/>
<line x1="288.44" y1="298.25" x2="288.44" y2="360.25" class="eb"/>
<line x1="297.28" y1="343.00" x2="297.28" y2="366.00" class="eb"/>
<line x1="306.12" y1="357.00" x2="306.12" y2="370.50" class="eb"/>
<line x1="314.96" y1="372.00" x2="314.96" y2="374.00" class="eb"/>
<line x1="323.80" y1="372.50" x2="323.80" y2="374.00" class="eb"/>
<line x1="332.64" y1="346.25" x2="332.64" y2="366.25" class="eb"/>
<line x1="341.48" y1="362.00" x2="341.48" y2="370.50" class="eb"/>
<line x1="230.20" y1="292.50" x2="230.20" y2="374.50" class="ax"/>
<line x1="226.90" y1="374.50" x2="348.00" y2="374.50" class="ax"/>
<line x1="227.60" y1="295.50" x2="230.20" y2="295.50" class="ax"/>
<text x="223.00" y="298.10" text-anchor="end" font-size="7.3">0.0150</text>
<line x1="227.60" y1="321.67" x2="230.20" y2="321.67" class="ax"/>
<text x="223.00" y="324.27" text-anchor="end" font-size="7.3">0.0100</text>
<line x1="227.60" y1="347.83" x2="230.20" y2="347.83" class="ax"/>
<text x="223.00" y="350.43" text-anchor="end" font-size="7.3">0.0050</text>
<line x1="227.60" y1="374.00" x2="230.20" y2="374.00" class="ax"/>
<text x="223.00" y="376.60" text-anchor="end" font-size="7.3">0.0000</text>
<text x="289.50" y="287.00" text-anchor="middle" font-size="9.4" class="ttl"><tspan class="ci">circ</tspan>STAM</text>
<rect x="396.25" y="369.50" width="6.30" height="4.50" fill="#f1c11c" stroke="#e8b000" stroke-width="0.5"/>
<text transform="translate(402.40,382.00) rotate(-45) scale(0.88,1)" text-anchor="end" font-size="7.35">LOUCY</text>
<rect x="405.09" y="356.00" width="6.30" height="18.00" fill="#a8062f" stroke="#90002a" stroke-width="0.5"/>
<text transform="translate(411.24,382.00) rotate(-45) scale(0.88,1)" text-anchor="end" font-size="7.35">DND-41</text>
<rect x="413.93" y="342.25" width="6.30" height="31.75" fill="#512465" stroke="#3d1250" stroke-width="0.5"/>
<text transform="translate(420.08,382.00) rotate(-45) scale(0.88,1)" text-anchor="end" font-size="7.35">ALL-SIL</text>
<rect x="422.77" y="372.25" width="6.30" height="1.75" fill="#c8077f" stroke="#b0006c" stroke-width="0.5"/>
<text transform="translate(428.92,382.00) rotate(-45) scale(0.88,1)" text-anchor="end" font-size="7.35">JURKAT</text>
<rect x="431.61" y="365.25" width="6.30" height="8.75" fill="#c8077f" stroke="#b0006c" stroke-width="0.5"/>
<text transform="translate(437.76,382.00) rotate(-45) scale(0.88,1)" text-anchor="end" font-size="7.35">KOPT-K1</text>
<rect x="440.45" y="367.75" width="6.30" height="6.25" fill="#c8077f" stroke="#b0006c" stroke-width="0.5"/>
<text transform="translate(446.60,382.00) rotate(-45) scale(0.88,1)" text-anchor="end" font-size="7.35">RPMI</text>
<rect x="449.29" y="328.25" width="6.30" height="45.75" fill="#c65a51" stroke="#b4463e" stroke-width="0.5"/>
<text transform="translate(455.44,382.00) rotate(-45) scale(0.88,1)" text-anchor="end" font-size="7.35">TALL-1</text>
<rect x="458.13" y="356.00" width="6.30" height="18.00" fill="#cecdd3" stroke="#c0c0c6" stroke-width="0.5"/>
<text transform="translate(464.28,382.00) rotate(-45) scale(0.88,1)" text-anchor="end" font-size="7.35">RS4;11</text>
<rect x="466.97" y="344.25" width="6.30" height="29.75" fill="#cecdd3" stroke="#c0c0c6" stroke-width="0.5"/>
<text transform="translate(473.12,382.00) rotate(-45) scale(0.88,1)" text-anchor="end" font-size="7.35">SEM</text>
<text transform="translate(481.96,382.00) rotate(-45) scale(0.88,1)" text-anchor="end" font-size="7.35">HL60</text>
<text transform="translate(490.80,382.00) rotate(-45) scale(0.88,1)" text-anchor="end" font-size="7.35">SHI</text>
<rect x="493.49" y="356.00" width="6.30" height="18.00" fill="#465067" stroke="#363e54" stroke-width="0.5"/>
<text transform="translate(499.64,382.00) rotate(-45) scale(0.88,1)" text-anchor="end" font-size="7.35">SKNO</text>
<rect x="502.33" y="369.75" width="6.30" height="4.25" fill="#465067" stroke="#363e54" stroke-width="0.5"/>
<text transform="translate(508.48,382.00) rotate(-45) scale(0.88,1)" text-anchor="end" font-size="7.35">THP1</text>
<line x1="399.40" y1="367.00" x2="399.40" y2="371.50" class="eb"/>
<line x1="408.24" y1="344.50" x2="408.24" y2="367.00" class="eb"/>
<line x1="417.08" y1="325.50" x2="417.08" y2="358.50" class="eb"/>
<line x1="425.92" y1="370.00" x2="425.92" y2="374.00" class="eb"/>
<line x1="434.76" y1="358.25" x2="434.76" y2="371.75" class="eb"/>
<line x1="443.60" y1="363.00" x2="443.60" y2="372.00" class="eb"/>
<line x1="452.44" y1="298.75" x2="452.44" y2="357.25" class="eb"/>
<line x1="461.28" y1="349.50" x2="461.28" y2="362.00" class="eb"/>
<line x1="470.12" y1="331.00" x2="470.12" y2="357.00" class="eb"/>
<line x1="496.64" y1="343.75" x2="496.64" y2="367.75" class="eb"/>
<line x1="505.48" y1="368.00" x2="505.48" y2="371.00" class="eb"/>
<line x1="393.25" y1="300.75" x2="393.25" y2="374.50" class="ax"/>
<line x1="389.95" y1="374.50" x2="512.00" y2="374.50" class="ax"/>
<line x1="390.65" y1="304.25" x2="393.25" y2="304.25" class="ax"/>
<text x="386.05" y="306.85" text-anchor="end" font-size="7.3">0.0003</text>
<line x1="390.65" y1="330.00" x2="393.25" y2="330.00" class="ax"/>
<text x="386.05" y="332.60" text-anchor="end" font-size="7.3">0.0002</text>
<line x1="390.65" y1="352.25" x2="393.25" y2="352.25" class="ax"/>
<text x="386.05" y="354.85" text-anchor="end" font-size="7.3">0.0001</text>
<line x1="390.65" y1="374.00" x2="393.25" y2="374.00" class="ax"/>
<text x="386.05" y="376.60" text-anchor="end" font-size="7.3">0.0000</text>
<text x="453.00" y="287.00" text-anchor="middle" font-size="9.4" class="ttl"><tspan class="ci">circ</tspan>HACD1</text>
<rect x="68.35" y="500.75" width="6.30" height="7.25" fill="#f1c11c" stroke="#e8b000" stroke-width="0.5"/>
<text transform="translate(74.50,516.00) rotate(-45) scale(0.88,1)" text-anchor="end" font-size="7.35">LOUCY</text>
<rect x="77.21" y="462.75" width="6.30" height="45.25" fill="#a8062f" stroke="#90002a" stroke-width="0.5"/>
<text transform="translate(83.36,516.00) rotate(-45) scale(0.88,1)" text-anchor="end" font-size="7.35">DND-41</text>
<rect x="86.07" y="471.00" width="6.30" height="37.00" fill="#512465" stroke="#3d1250" stroke-width="0.5"/>
<text transform="translate(92.22,516.00) rotate(-45) scale(0.88,1)" text-anchor="end" font-size="7.35">ALL-SIL</text>
<rect x="94.93" y="496.50" width="6.30" height="11.50" fill="#c8077f" stroke="#b0006c" stroke-width="0.5"/>
<text transform="translate(101.08,516.00) rotate(-45) scale(0.88,1)" text-anchor="end" font-size="7.35">JURKAT</text>
<rect x="103.79" y="504.00" width="6.30" height="4.00" fill="#c8077f" stroke="#b0006c" stroke-width="0.5"/>
<text transform="translate(109.94,516.00) rotate(-45) scale(0.88,1)" text-anchor="end" font-size="7.35">KOPT-K1</text>
<rect x="112.65" y="501.50" width="6.30" height="6.50" fill="#c8077f" stroke="#b0006c" stroke-width="0.5"/>
<text transform="translate(118.80,516.00) rotate(-45) scale(0.88,1)" text-anchor="end" font-size="7.35">RPMI</text>
<rect x="121.51" y="486.00" width="6.30" height="22.00" fill="#c65a51" stroke="#b4463e" stroke-width="0.5"/>
<text transform="translate(127.66,516.00) rotate(-45) scale(0.88,1)" text-anchor="end" font-size="7.35">TALL-1</text>
<rect x="130.37" y="476.50" width="6.30" height="31.50" fill="#cecdd3" stroke="#c0c0c6" stroke-width="0.5"/>
<text transform="translate(136.52,516.00) rotate(-45) scale(0.88,1)" text-anchor="end" font-size="7.35">RS4;11</text>
<rect x="139.23" y="492.75" width="6.30" height="15.25" fill="#cecdd3" stroke="#c0c0c6" stroke-width="0.5"/>
<text transform="translate(145.38,516.00) rotate(-45) scale(0.88,1)" text-anchor="end" font-size="7.35">SEM</text>
<rect x="148.09" y="504.25" width="6.30" height="3.75" fill="#465067" stroke="#363e54" stroke-width="0.5"/>
<text transform="translate(154.24,516.00) rotate(-45) scale(0.88,1)" text-anchor="end" font-size="7.35">HL60</text>
<rect x="156.95" y="506.00" width="6.30" height="2.00" fill="#465067" stroke="#363e54" stroke-width="0.5"/>
<text transform="translate(163.10,516.00) rotate(-45) scale(0.88,1)" text-anchor="end" font-size="7.35">SHI</text>
<rect x="165.81" y="496.50" width="6.30" height="11.50" fill="#465067" stroke="#363e54" stroke-width="0.5"/>
<text transform="translate(171.96,516.00) rotate(-45) scale(0.88,1)" text-anchor="end" font-size="7.35">SKNO</text>
<rect x="174.67" y="505.25" width="6.30" height="2.75" fill="#465067" stroke="#363e54" stroke-width="0.5"/>
<text transform="translate(180.82,516.00) rotate(-45) scale(0.88,1)" text-anchor="end" font-size="7.35">THP1</text>
<line x1="71.50" y1="495.50" x2="71.50" y2="505.50" class="eb"/>
<line x1="80.36" y1="433.00" x2="80.36" y2="492.00" class="eb"/>
<line x1="89.22" y1="453.00" x2="89.22" y2="488.50" class="eb"/>
<line x1="98.08" y1="487.50" x2="98.08" y2="505.00" class="eb"/>
<line x1="106.94" y1="500.50" x2="106.94" y2="507.00" class="eb"/>
<line x1="115.80" y1="495.00" x2="115.80" y2="507.50" class="eb"/>
<line x1="124.66" y1="470.75" x2="124.66" y2="500.75" class="eb"/>
<line x1="133.52" y1="458.25" x2="133.52" y2="494.25" class="eb"/>
<line x1="142.38" y1="484.25" x2="142.38" y2="500.75" class="eb"/>
<line x1="151.24" y1="501.25" x2="151.24" y2="506.75" class="eb"/>
<line x1="160.10" y1="504.25" x2="160.10" y2="507.25" class="eb"/>
<line x1="168.96" y1="489.50" x2="168.96" y2="503.00" class="eb"/>
<line x1="177.82" y1="502.50" x2="177.82" y2="507.50" class="eb"/>
<line x1="66.30" y1="435.75" x2="66.30" y2="508.50" class="ax"/>
<line x1="63.00" y1="508.50" x2="185.00" y2="508.50" class="ax"/>
<line x1="63.70" y1="443.75" x2="66.30" y2="443.75" class="ax"/>
<text x="59.10" y="446.35" text-anchor="end" font-size="7.3">0.0200</text>
<line x1="63.70" y1="459.81" x2="66.30" y2="459.81" class="ax"/>
<text x="59.10" y="462.41" text-anchor="end" font-size="7.3">0.0150</text>
<line x1="63.70" y1="475.88" x2="66.30" y2="475.88" class="ax"/>
<text x="59.10" y="478.48" text-anchor="end" font-size="7.3">0.0100</text>
<line x1="63.70" y1="491.94" x2="66.30" y2="491.94" class="ax"/>
<text x="59.10" y="494.54" text-anchor="end" font-size="7.3">0.0050</text>
<line x1="63.70" y1="508.00" x2="66.30" y2="508.00" class="ax"/>
<text x="59.10" y="510.60" text-anchor="end" font-size="7.3">0.0000</text>
<text x="124.80" y="421.25" text-anchor="middle" font-size="9.4" class="ttl"><tspan class="ci">circ</tspan>CAMSAP1</text>
<text transform="translate(31.5,480.62) rotate(-90)" font-size="8.9" textLength="3.0" lengthAdjust="spacingAndGlyphs" class="yl">2</text>
<text transform="translate(28.1,476.23) rotate(-90)" font-size="6.3" textLength="5.5" lengthAdjust="spacingAndGlyphs">-<tspan fill="#888">Δ</tspan></text>
<text transform="translate(28.1,468.32) rotate(-90)" font-size="6.3" textLength="5.2" lengthAdjust="spacingAndGlyphs" class="yl">CT</text>
<rect x="232.25" y="500.25" width="6.30" height="7.75" fill="#f1c11c" stroke="#e8b000" stroke-width="0.5"/>
<text transform="translate(238.40,516.00) rotate(-45) scale(0.88,1)" text-anchor="end" font-size="7.35">LOUCY</text>
<rect x="241.09" y="497.00" width="6.30" height="11.00" fill="#a8062f" stroke="#90002a" stroke-width="0.5"/>
<text transform="translate(247.24,516.00) rotate(-45) scale(0.88,1)" text-anchor="end" font-size="7.35">DND-41</text>
<rect x="249.93" y="474.25" width="6.30" height="33.75" fill="#512465" stroke="#3d1250" stroke-width="0.5"/>
<text transform="translate(256.08,516.00) rotate(-45) scale(0.88,1)" text-anchor="end" font-size="7.35">ALL-SIL</text>
<rect x="258.77" y="477.25" width="6.30" height="30.75" fill="#c8077f" stroke="#b0006c" stroke-width="0.5"/>
<text transform="translate(264.92,516.00) rotate(-45) scale(0.88,1)" text-anchor="end" font-size="7.35">JURKAT</text>
<rect x="267.61" y="499.00" width="6.30" height="9.00" fill="#c8077f" stroke="#b0006c" stroke-width="0.5"/>
<text transform="translate(273.76,516.00) rotate(-45) scale(0.88,1)" text-anchor="end" font-size="7.35">KOPT-K1</text>
<rect x="276.45" y="497.00" width="6.30" height="11.00" fill="#c8077f" stroke="#b0006c" stroke-width="0.5"/>
<text transform="translate(282.60,516.00) rotate(-45) scale(0.88,1)" text-anchor="end" font-size="7.35">RPMI</text>
<rect x="285.29" y="465.25" width="6.30" height="42.75" fill="#c65a51" stroke="#b4463e" stroke-width="0.5"/>
<text transform="translate(291.44,516.00) rotate(-45) scale(0.88,1)" text-anchor="end" font-size="7.35">TALL-1</text>
<rect x="294.13" y="507.85" width="6.30" height="0.15" fill="#cecdd3" stroke="#c0c0c6" stroke-width="0.5"/>
<text transform="translate(300.28,516.00) rotate(-45) scale(0.88,1)" text-anchor="end" font-size="7.35">RS4;11</text>
<text transform="translate(309.12,516.00) rotate(-45) scale(0.88,1)" text-anchor="end" font-size="7.35">SEM</text>
<text transform="translate(317.96,516.00) rotate(-45) scale(0.88,1)" text-anchor="end" font-size="7.35">HL60</text>
<text transform="translate(326.80,516.00) rotate(-45) scale(0.88,1)" text-anchor="end" font-size="7.35">SHI</text>
<rect x="329.49" y="507.85" width="6.30" height="0.15" fill="#465067" stroke="#363e54" stroke-width="0.5"/>
<text transform="translate(335.64,516.00) rotate(-45) scale(0.88,1)" text-anchor="end" font-size="7.35">SKNO</text>
<rect x="338.33" y="507.55" width="6.30" height="0.45" fill="#465067" stroke="#363e54" stroke-width="0.5"/>
<text transform="translate(344.48,516.00) rotate(-45) scale(0.88,1)" text-anchor="end" font-size="7.35">THP1</text>
<line x1="235.40" y1="494.25" x2="235.40" y2="505.75" class="eb"/>
<line x1="244.24" y1="487.00" x2="244.24" y2="506.50" class="eb"/>
<line x1="253.08" y1="452.50" x2="253.08" y2="495.50" class="eb"/>
<line x1="261.92" y1="453.00" x2="261.92" y2="501.00" class="eb"/>
<line x1="270.76" y1="491.75" x2="270.76" y2="505.75" class="eb"/>
<line x1="279.60" y1="487.50" x2="279.60" y2="506.00" class="eb"/>
<line x1="288.44" y1="432.50" x2="288.44" y2="497.50" class="eb"/>
<line x1="297.28" y1="506.00" x2="297.28" y2="508.00" class="eb"/>
<line x1="332.64" y1="507.00" x2="332.64" y2="508.00" class="eb"/>
<line x1="341.48" y1="506.00" x2="341.48" y2="508.00" class="eb"/>
<line x1="230.20" y1="436.75" x2="230.20" y2="508.50" class="ax"/>
<line x1="226.90" y1="508.50" x2="348.00" y2="508.50" class="ax"/>
<line x1="227.60" y1="440.50" x2="230.20" y2="440.50" class="ax"/>
<text x="223.00" y="443.10" text-anchor="end" font-size="7.3">0.0600</text>
<line x1="227.60" y1="463.00" x2="230.20" y2="463.00" class="ax"/>
<text x="223.00" y="465.60" text-anchor="end" font-size="7.3">0.0400</text>
<line x1="227.60" y1="485.50" x2="230.20" y2="485.50" class="ax"/>
<text x="223.00" y="488.10" text-anchor="end" font-size="7.3">0.0200</text>
<line x1="227.60" y1="508.00" x2="230.20" y2="508.00" class="ax"/>
<text x="223.00" y="510.60" text-anchor="end" font-size="7.3">0.0000</text>
<text x="289.50" y="420.75" text-anchor="middle" font-size="9.4" class="ttl"><tspan class="ci">circ</tspan>CASC15 (4)</text>
<g class="leg">
<line x1="380" y1="463" x2="462" y2="463" stroke="#555" stroke-width="1"/>
<text x="421" y="458" text-anchor="middle" font-size="5.6">T-ALL</text>
<text x="476.8" y="458" text-anchor="middle" font-size="5.6">B-ALL</text>
<text x="495.5" y="458" text-anchor="middle" font-size="5.6">AML</text>
<rect x="380.5" y="466.5" width="6.6" height="6.6" fill="#f1c11c"/>
<rect x="399" y="466.5" width="6.6" height="6.6" fill="#a8062f"/>
<rect x="417" y="466.5" width="6.6" height="6.6" fill="#512465"/>
<rect x="435.75" y="466.5" width="6.6" height="6.6" fill="#c8077f"/>
<rect x="455" y="466.5" width="6.6" height="6.6" fill="#c65a51"/>
<rect x="473.5" y="466.5" width="6.6" height="6.6" fill="#cecdd3"/>
<rect x="492" y="466.5" width="6.6" height="6.6" fill="#465067"/>
<text x="383.8" y="480.8" text-anchor="middle" font-size="5.6">IMM/</text>
<text x="383.8" y="488.3" text-anchor="middle" font-size="5.6">HOXA</text>
<text x="402.3" y="480.8" text-anchor="middle" font-size="5.6">TLX3</text>
<text x="420.3" y="480.8" text-anchor="middle" font-size="5.6">TLX1</text>
<text x="439" y="480.8" text-anchor="middle" font-size="5.6">TAL-</text>
<text x="439" y="488.3" text-anchor="middle" font-size="5.6">LMO</text>
</g>
<text x="7.2" y="563" font-size="12.6" font-weight="bold">B</text>
<g class="leg">
<line x1="66.3" y1="570" x2="66.3" y2="654.6" class="ax"/>
<line x1="66.3" y1="654.3" x2="165.8" y2="654.3" class="ax"/>
<line x1="63.7" y1="573.75" x2="66.3" y2="573.75" class="ax"/>
<text x="59.4" y="576.35" text-anchor="end" font-size="7.3">1.00</text>
<line x1="63.7" y1="592.81" x2="66.3" y2="592.81" class="ax"/>
<text x="59.4" y="595.41" text-anchor="end" font-size="7.3">0.75</text>
<line x1="63.7" y1="611.87" x2="66.3" y2="611.87" class="ax"/>
<text x="59.4" y="614.47" text-anchor="end" font-size="7.3">0.50</text>
<line x1="63.7" y1="630.93" x2="66.3" y2="630.93" class="ax"/>
<text x="59.4" y="633.53" text-anchor="end" font-size="7.3">0.25</text>
<line x1="63.7" y1="649.99" x2="66.3" y2="649.99" class="ax"/>
<text x="59.4" y="652.59" text-anchor="end" font-size="7.3">0.00</text>
<rect x="75.8" y="573.75" width="15.6" height="76.25" fill="#2f6a4f"/>
<rect x="94.6" y="645" width="15.9" height="5" fill="#67ad3f"/>
<rect x="121.3" y="573.75" width="15.7" height="76.25" fill="#2f6a4f"/>
<rect x="140.5" y="637.5" width="15.8" height="12.5" fill="#67ad3f"/>
<path d="M102.5 644v2 M100.7 644h3.6 M100.7 646h3.6" stroke="#000" stroke-width="0.8" fill="none"/>
<path d="M148.4 635.5v4 M146.6 635.5h3.6 M146.6 639.5h3.6" stroke="#000" stroke-width="0.8" fill="none"/>
<path d="M83.3 572v-1.5h19.8v1.5" stroke="#222" stroke-width="1" fill="none"/>
<path d="M128.3 572v-1.5h19.9v1.5" stroke="#222" stroke-width="1" fill="none"/>
<text x="93.2" y="569.5" text-anchor="middle" font-size="5">***</text>
<text x="138.2" y="569.5" text-anchor="middle" font-size="5">***</text>
<line x1="93" y1="654.3" x2="93" y2="656.5" class="ax"/>
<line x1="138.5" y1="654.3" x2="138.5" y2="656.5" class="ax"/>
<text x="93" y="667" text-anchor="middle" font-size="6.8">24h</text>
<text x="138.3" y="667" text-anchor="middle" font-size="6.8">48h</text>
<text x="104.8" y="679.8" font-size="8.9" textLength="21.8" lengthAdjust="spacingAndGlyphs" class="bd">ALL-SIL</text>
<text transform="translate(40.2,612.3) rotate(-90)" text-anchor="middle" font-size="9.0" textLength="81" lengthAdjust="spacingAndGlyphs" class="bd">circZNF609 expression (RQ)</text>
<rect x="175.8" y="604.3" width="6" height="5.8" fill="#2f6a4f"/>
<rect x="175.8" y="613.8" width="6" height="5.8" fill="#67ad3f"/>
<text x="185" y="609.2" font-size="5.8">Control</text>
<text x="185" y="618.8" font-size="5.8">si-circZNF609</text>
</g>
<text x="238.4" y="563" font-size="12.6" font-weight="bold">C</text>
<g class="leg">
<line x1="283" y1="571.2" x2="283" y2="654.6" class="ax"/>
<line x1="283" y1="654.3" x2="382.5" y2="654.3" class="ax"/>
<line x1="280.4" y1="575.50" x2="283" y2="575.50" class="ax"/>
<text x="276.6" y="578.05" text-anchor="end" font-size="7.3">100</text>
<line x1="280.4" y1="582.98" x2="283" y2="582.98" class="ax"/>
<text x="276.6" y="585.52" text-anchor="end" font-size="7.3">90</text>
<line x1="280.4" y1="590.45" x2="283" y2="590.45" class="ax"/>
<text x="276.6" y="593.00" text-anchor="end" font-size="7.3">80</text>
<line x1="280.4" y1="597.92" x2="283" y2="597.92" class="ax"/>
<text x="276.6" y="600.47" text-anchor="end" font-size="7.3">70</text>
<line x1="280.4" y1="605.40" x2="283" y2="605.40" class="ax"/>
<text x="276.6" y="607.95" text-anchor="end" font-size="7.3">60</text>
<line x1="280.4" y1="612.88" x2="283" y2="612.88" class="ax"/>
<text x="276.6" y="615.42" text-anchor="end" font-size="7.3">50</text>
<line x1="280.4" y1="620.35" x2="283" y2="620.35" class="ax"/>
<text x="276.6" y="622.90" text-anchor="end" font-size="7.3">40</text>
<line x1="280.4" y1="627.83" x2="283" y2="627.83" class="ax"/>
<text x="276.6" y="630.38" text-anchor="end" font-size="7.3">30</text>
<line x1="280.4" y1="635.30" x2="283" y2="635.30" class="ax"/>
<text x="276.6" y="637.85" text-anchor="end" font-size="7.3">20</text>
<line x1="280.4" y1="642.77" x2="283" y2="642.77" class="ax"/>
<text x="276.6" y="645.32" text-anchor="end" font-size="7.3">10</text>
<line x1="280.4" y1="650.25" x2="283" y2="650.25" class="ax"/>
<text x="276.6" y="652.80" text-anchor="end" font-size="7.3">0</text>
<rect x="293" y="575.5" width="15.8" height="74.75" fill="#2f6a4f"/>
<rect x="312" y="588" width="15.8" height="62.25" fill="#67ad3f"/>
<rect x="338.3" y="575.5" width="15.7" height="74.75" fill="#2f6a4f"/>
<rect x="357.3" y="593" width="16" height="57.25" fill="#67ad3f"/>
<path d="M320 583v9.5 M318.2 583h3.6 M318.2 592.5h3.6" stroke="#000" stroke-width="0.8" fill="none"/>
<path d="M365.3 591.8v2.4 M363.5 591.8h3.6 M363.5 594.2h3.6" stroke="#000" stroke-width="0.8" fill="none"/>
<path d="M300.5 572v-1.5h20v1.5" stroke="#222" stroke-width="1" fill="none"/>
<path d="M345.8 572v-1.5h19.7v1.5" stroke="#222" stroke-width="1" fill="none"/>
<text x="310.5" y="569.5" text-anchor="middle" font-size="5">*</text>
<text x="355.6" y="569.5" text-anchor="middle" font-size="5">*</text>
<line x1="310.5" y1="654.3" x2="310.5" y2="656.5" class="ax"/>
<line x1="355.5" y1="654.3" x2="355.5" y2="656.5" class="ax"/>
<text x="310.5" y="667" text-anchor="middle" font-size="6.8">24h</text>
<text x="355.5" y="667" text-anchor="middle" font-size="6.8">48h</text>
<text x="321.7" y="679.8" font-size="8.9" textLength="21.8" lengthAdjust="spacingAndGlyphs" class="bd">ALL-SIL</text>
<text transform="translate(258.1,613.8) rotate(-90)" text-anchor="middle" font-size="9.0" textLength="53" lengthAdjust="spacingAndGlyphs" class="bd">Cell viability (MTT)</text>
<rect x="393" y="605" width="5.8" height="5.6" fill="#2f6a4f"/>
<rect x="393" y="615" width="5.8" height="5.6" fill="#67ad3f"/>
<text x="402" y="609.9" font-size="5.8">Control</text>
<text x="402" y="619.9" font-size="5.8">si-circZNF609</text>
</g>
</svg>
</body></html>
